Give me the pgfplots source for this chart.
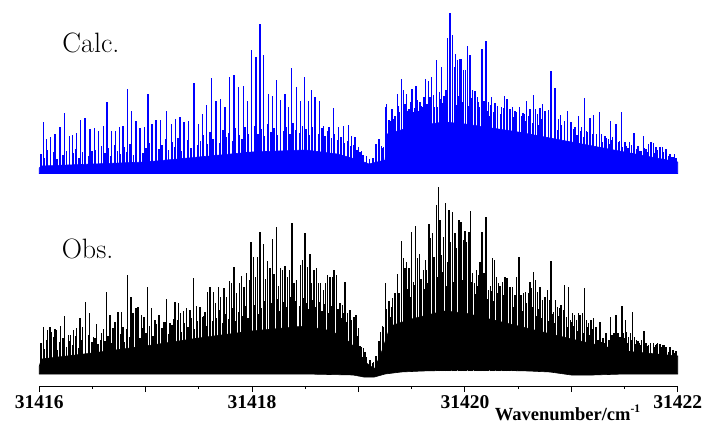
\documentclass[border=0pt]{standalone}
\usepackage{fontspec}
\usepackage{pgfplots}
\pgfplotsset{compat=1.18}
\newfontfamily\tnr{Liberation Serif}
\begin{document}
\begin{tikzpicture}[x=1pt,y=1pt]
\useasboundingbox (-39.3,-38) rectangle (672.7,386);
% ---------------- Observed spectrum (bottom, carries the x axis)
\begin{axis}[at={(0pt,0pt)}, anchor=south west, scale only axis,
  width=638.4pt, height=212pt,
  xmin=31416, xmax=31422, ymin=-15, ymax=197,
  axis x line*=bottom, axis y line=none, clip=false,
  scaled x ticks=false,
  axis line style={line width=0.9pt},
  tick align=outside, major tick length=6pt, minor tick length=3pt,
  tick style={black, line width=0.9pt},
  xtick={31416,31417,31418,31419,31420,31421,31422},
  xticklabels={31416,,31418,,31420,,31422},
  minor xtick={31416.5,31417.5,31418.5,31419.5,31420.5,31421.5},
  xticklabel style={font=\tnr\bfseries\fontsize{19.5}{22}\selectfont},
]
% dense unresolved part
\addplot[fill=black, draw=black, line width=0.6pt] coordinates {
(31416.0,5) (31416.02,12) (31416.5,18) (31417.0,25) (31417.5,33) (31418.0,40)
(31418.5,45) (31418.75,40) (31418.9,30) (31419.0,20) (31419.05,10) (31419.15,2)
(31419.22,20) (31419.3,45) (31419.5,52) (31419.8,60) (31420.0,58) (31420.5,45)
(31421.0,32) (31421.5,20) (31422.0,15)
(31422.0,-3) (31421.5,-3) (31421.2,-4) (31421.0,-4) (31420.8,-1) (31420.6,0)
(31420.4,0.5) (31420.2,1) (31420.0,1) (31419.8,0.5) (31419.6,0) (31419.4,-1)
(31419.25,-3) (31419.15,-6) (31419.05,-6) (31418.95,-4) (31418.5,-3)
(31417.5,-3) (31416.5,-3) (31416.0,-3)} -- cycle;
% dense grass of weaker lines
\addplot[ycomb, black, line width=1.8pt] table[row sep=\\] {
x y\\
31416.015 28\\ 31416.045 22\\ 31416.075 31\\ 31416.105 25\\ 31416.135 34\\ 31416.165 21\\
31416.195 29\\ 31416.225 33\\ 31416.255 24\\ 31416.285 30\\ 31416.315 26\\ 31416.345 35\\
31416.375 23\\ 31416.405 31\\ 31416.435 27\\ 31416.465 36\\ 31416.495 29\\
31416.525 33\\ 31416.555 27\\ 31416.585 38\\ 31416.615 30\\ 31416.645 35\\ 31416.675 28\\
31416.705 40\\ 31416.735 32\\ 31416.765 37\\ 31416.795 29\\ 31416.825 42\\ 31416.855 34\\
31416.885 31\\ 31416.915 39\\ 31416.945 33\\ 31416.975 43\\
31417.005 38\\ 31417.035 45\\ 31417.065 35\\ 31417.095 47\\ 31417.125 40\\ 31417.155 43\\
31417.185 49\\ 31417.215 37\\ 31417.245 46\\ 31417.275 41\\ 31417.305 51\\ 31417.335 39\\
31417.365 48\\ 31417.395 44\\ 31417.425 53\\ 31417.455 42\\ 31417.485 50\\
31417.515 47\\ 31417.545 55\\ 31417.575 45\\ 31417.605 58\\ 31417.635 50\\ 31417.665 53\\
31417.695 61\\ 31417.725 48\\ 31417.755 57\\ 31417.785 52\\ 31417.815 63\\ 31417.845 50\\
31417.875 59\\ 31417.905 55\\ 31417.935 65\\ 31417.965 53\\ 31417.995 60\\
31418.025 66\\ 31418.055 57\\ 31418.085 63\\ 31418.115 70\\ 31418.145 59\\ 31418.175 68\\
31418.205 62\\ 31418.235 72\\ 31418.265 60\\ 31418.295 69\\ 31418.325 64\\ 31418.355 74\\
31418.385 61\\ 31418.415 70\\ 31418.445 65\\ 31418.475 73\\
31418.505 68\\ 31418.535 62\\ 31418.565 71\\ 31418.595 64\\ 31418.625 69\\ 31418.655 60\\
31418.685 67\\ 31418.715 58\\ 31418.745 65\\ 31418.775 56\\ 31418.805 62\\ 31418.835 53\\
31418.865 58\\ 31418.895 49\\ 31418.925 52\\ 31418.955 42\\ 31418.985 35\\
31419.015 25\\ 31419.045 14\\ 31419.075 8\\ 31419.105 6\\ 31419.135 8\\ 31419.165 15\\
31419.195 30\\ 31419.225 45\\
31419.255 62\\ 31419.285 70\\ 31419.315 64\\ 31419.345 74\\ 31419.375 67\\ 31419.405 78\\
31419.435 70\\ 31419.465 82\\ 31419.495 74\\
31419.525 86\\ 31419.555 78\\ 31419.585 92\\ 31419.615 82\\ 31419.645 88\\ 31419.675 96\\
31419.705 84\\ 31419.735 94\\ 31419.765 87\\ 31419.795 99\\ 31419.825 85\\ 31419.855 93\\
31419.885 89\\ 31419.915 97\\ 31419.945 84\\ 31419.975 91\\
31420.005 86\\ 31420.035 80\\ 31420.065 89\\ 31420.095 77\\ 31420.125 85\\ 31420.155 74\\
31420.185 83\\ 31420.215 72\\ 31420.245 80\\ 31420.275 70\\ 31420.305 78\\ 31420.335 68\\
31420.365 76\\ 31420.395 66\\ 31420.425 74\\ 31420.455 64\\ 31420.485 71\\
31420.515 65\\ 31420.545 60\\ 31420.575 68\\ 31420.605 57\\ 31420.635 64\\ 31420.665 55\\
31420.695 62\\ 31420.725 53\\ 31420.755 60\\ 31420.785 50\\ 31420.815 57\\ 31420.845 48\\
31420.875 55\\ 31420.905 46\\ 31420.935 52\\ 31420.965 44\\ 31420.995 49\\
31421.025 45\\ 31421.055 40\\ 31421.085 47\\ 31421.115 38\\ 31421.145 44\\ 31421.175 36\\
31421.205 42\\ 31421.235 35\\ 31421.265 40\\ 31421.295 33\\ 31421.325 38\\ 31421.355 31\\
31421.385 36\\ 31421.415 30\\ 31421.445 34\\ 31421.475 29\\
31421.505 33\\ 31421.535 28\\ 31421.565 31\\ 31421.595 27\\ 31421.625 30\\ 31421.655 26\\
31421.685 29\\ 31421.715 25\\ 31421.745 28\\ 31421.775 24\\ 31421.805 27\\ 31421.835 23\\
31421.865 26\\ 31421.895 22\\ 31421.925 24\\ 31421.955 21\\ 31421.985 20\\
};
% resolved strong lines
\addplot[ycomb, black, line width=1.5pt] table[row sep=\\] {
x y\\
31416.038 44.3\\ 31416.075 41\\ 31416.101 44.3\\ 31416.117 39.3\\ 31416.148 41.7\\
31416.164 41\\ 31416.201 45\\ 31416.235 55.3\\ 31416.273 36\\ 31416.295 36\\
31416.320 41\\ 31416.352 43.3\\ 31416.383 52.7\\ 31416.404 44.3\\ 31416.432 68.7\\
31416.470 57.7\\ 31416.508 34.3\\ 31416.539 47\\ 31416.577 31\\ 31416.602 41.7\\
31416.633 78.7\\ 31416.664 56\\ 31416.695 42.7\\ 31416.711 49.3\\ 31416.742 59.3\\
31416.774 59.3\\ 31416.789 44.3\\ 31416.827 96\\ 31416.862 74.3\\ 31416.883 57.7\\
31416.909 62.7\\ 31416.930 64.3\\ 31416.962 56\\ 31416.984 54.3\\ 31417.015 84.3\\
31417.056 62.7\\ 31417.087 51\\ 31417.125 56\\ 31417.165 49.3\\ 31417.197 71.7\\
31417.228 47.7\\ 31417.259 51.7\\ 31417.275 68.7\\ 31417.306 67.7\\ 31417.329 57.7\\
31417.353 60.3\\ 31417.385 62.7\\ 31417.416 61\\ 31417.447 92.7\\ 31417.479 65\\
31417.510 64.3\\ 31417.532 54.3\\ 31417.557 59.3\\ 31417.579 79.3\\ 31417.604 84.3\\
31417.635 79.3\\ 31417.658 67.7\\ 31417.682 84.3\\ 31417.705 73.7\\ 31417.736 82.7\\
31417.761 73.7\\ 31417.786 90.3\\ 31417.808 87.7\\ 31417.830 103.7\\ 31417.855 77.7\\
31417.880 87.7\\ 31417.902 95\\ 31417.924 84.3\\ 31417.949 97.7\\ 31417.980 91\\
31417.990 129.3\\ 31418.011 114.3\\ 31418.034 94.3\\ 31418.053 114.3\\ 31418.074 139.3\\
31418.105 126.7\\ 31418.124 91.7\\ 31418.147 110\\ 31418.168 102.7\\ 31418.190 131.7\\
31418.206 96.7\\ 31418.231 144.3\\ 31418.250 85\\ 31418.269 103.3\\ 31418.288 101\\
31418.309 105\\ 31418.331 94.3\\ 31418.350 101\\ 31418.375 147.7\\ 31418.394 87.7\\
31418.419 91\\ 31418.457 106\\ 31418.476 111\\ 31418.497 138.3\\ 31418.519 103.7\\
31418.544 117\\ 31418.560 87.7\\ 31418.582 101\\ 31418.607 102.7\\ 31418.622 87.7\\
31418.645 88.3\\ 31418.669 81\\ 31418.692 87.7\\ 31418.711 96\\ 31418.732 94.3\\
31418.754 94.3\\ 31418.770 101\\ 31418.795 96\\ 31418.826 68.3\\ 31418.848 66\\
31418.873 89.3\\ 31418.895 57.7\\ 31418.920 61\\ 31418.936 51\\ 31418.958 54.3\\
31418.977 56\\ 31418.998 42.7\\ 31419.023 24.3\\ 31419.045 22.7\\ 31419.061 19.3\\
31419.077 14.3\\ 31419.108 11\\ 31419.139 9.3\\
31419.209 39.3\\ 31419.233 44.3\\ 31419.256 87.7\\ 31419.280 57.7\\ 31419.296 54.3\\
31419.318 72.7\\ 31419.343 77.7\\ 31419.365 97\\ 31419.383 77.7\\ 31419.406 130.3\\
31419.421 112.7\\ 31419.437 102.7\\ 31419.453 109.3\\ 31419.477 102.7\\ 31419.500 138.7\\
31419.515 89.3\\ 31419.538 145.3\\ 31419.553 112.7\\ 31419.571 117\\ 31419.594 87.7\\
31419.609 101\\ 31419.632 111\\ 31419.641 101\\ 31419.663 146.7\\ 31419.679 132.7\\
31419.694 137.7\\ 31419.710 113.7\\ 31419.735 166\\ 31419.750 184.3\\ 31419.766 151\\
31419.782 116\\ 31419.797 134.3\\ 31419.820 167.7\\ 31419.835 109.3\\ 31419.851 161\\
31419.867 129.3\\ 31419.885 159.3\\ 31419.907 138.3\\ 31419.923 122.7\\ 31419.945 151\\
31419.963 149.3\\ 31419.985 131\\ 31420.001 140.3\\ 31420.017 129.3\\ 31420.039 139.3\\
31420.051 160.3\\ 31420.070 97.7\\ 31420.088 87.7\\ 31420.111 101\\ 31420.126 96\\
31420.142 109.3\\ 31420.161 139.3\\ 31420.180 97.7\\ 31420.198 153.7\\ 31420.220 81\\
31420.242 85\\ 31420.261 112.7\\ 31420.276 111\\ 31420.299 94.3\\ 31420.314 87.7\\
31420.330 85\\ 31420.355 89.3\\ 31420.377 93.7\\ 31420.398 92.7\\ 31420.424 84.3\\
31420.449 84.3\\ 31420.471 76\\ 31420.487 94.3\\ 31420.508 114.3\\ 31420.527 76\\
31420.549 77.7\\ 31420.571 79.3\\ 31420.596 77.7\\ 31420.612 89.3\\ 31420.628 82.7\\
31420.643 99.3\\ 31420.665 91\\ 31420.684 79.3\\ 31420.706 84.3\\ 31420.731 71\\
31420.753 74.3\\ 31420.778 81\\ 31420.793 71\\ 31420.809 110\\ 31420.831 59.3\\
31420.850 71\\ 31420.868 64.3\\ 31420.887 62.7\\ 31420.903 66\\ 31420.925 61\\
31420.938 86\\ 31420.957 54.3\\ 31420.972 84.3\\ 31420.994 51\\ 31421.013 57.7\\
31421.028 56\\ 31421.051 51\\ 31421.070 57.7\\ 31421.082 56\\ 31421.103 58.3\\
31421.126 83.3\\ 31421.145 51\\ 31421.164 47.7\\ 31421.185 51\\ 31421.207 52.7\\
31421.232 44.3\\ 31421.251 31\\ 31421.270 49.3\\ 31421.289 29.3\\ 31421.310 27.7\\
31421.333 31\\ 31421.357 31\\ 31421.370 54.3\\ 31421.389 34.3\\ 31421.401 37.7\\
31421.420 56\\ 31421.439 37.7\\ 31421.458 34.3\\ 31421.477 65\\ 31421.489 37.7\\
31421.508 51\\ 31421.521 39.3\\ 31421.539 34.3\\ 31421.558 37.7\\ 31421.577 59.3\\
31421.592 34.3\\ 31421.615 31\\ 31421.639 27.7\\ 31421.662 31\\ 31421.683 40.3\\
31421.702 27.7\\ 31421.724 26\\ 31421.746 28.3\\ 31421.771 28.3\\ 31421.793 26\\
31421.808 27.7\\ 31421.834 27\\ 31421.850 24.3\\ 31421.871 26\\ 31421.890 24.3\\
31421.912 19.3\\ 31421.928 20.3\\ 31421.950 21\\ 31421.972 17.7\\ 31421.987 16\\
};
\node[anchor=base west, inner sep=0pt, font=\fontsize{28}{32}\selectfont]
  at (axis cs:31416.21,112.7) {Obs.};
\end{axis}
% ---------------- Calculated spectrum (top)
\begin{axis}[at={(0pt,212pt)}, anchor=south west, scale only axis,
  width=638.4pt, height=173.5pt,
  xmin=31416, xmax=31422, ymin=-2, ymax=171.5,
  hide axis, clip=false, scaled x ticks=false]
\addplot[fill=blue, draw=blue, line width=0.6pt] coordinates {
(31416.0,4) (31416.02,6) (31417.0,10) (31418.0,20) (31418.5,22) (31418.8,18)
(31419.0,12) (31419.1,8) (31419.25,12) (31419.27,38) (31419.5,45) (31419.8,50)
(31420.0,48) (31420.5,40) (31421.0,30) (31421.5,20) (31422.0,10)
(31422.0,-1.5) (31416.0,-1.5)} -- cycle;
\addplot[ycomb, blue, line width=1.6pt] table[row sep=\\] {
x y\\
31416.015 18\\ 31416.045 14\\ 31416.075 22\\ 31416.105 16\\ 31416.135 20\\ 31416.165 13\\
31416.195 24\\ 31416.225 17\\ 31416.255 21\\ 31416.285 15\\ 31416.315 19\\ 31416.345 23\\
31416.375 14\\ 31416.405 20\\ 31416.435 25\\ 31416.465 16\\ 31416.495 21\\
31416.525 22\\ 31416.555 17\\ 31416.585 26\\ 31416.615 19\\ 31416.645 24\\ 31416.675 16\\
31416.705 27\\ 31416.735 21\\ 31416.765 18\\ 31416.795 25\\ 31416.825 20\\ 31416.855 28\\
31416.885 17\\ 31416.915 23\\ 31416.945 26\\ 31416.975 19\\
31417.005 24\\ 31417.035 29\\ 31417.065 20\\ 31417.095 31\\ 31417.125 23\\ 31417.155 27\\
31417.185 33\\ 31417.215 22\\ 31417.245 30\\ 31417.275 25\\ 31417.305 34\\ 31417.335 21\\
31417.365 28\\ 31417.395 32\\ 31417.425 24\\ 31417.455 35\\ 31417.485 27\\
31417.515 31\\ 31417.545 37\\ 31417.575 28\\ 31417.605 40\\ 31417.635 33\\ 31417.665 36\\
31417.695 29\\ 31417.725 42\\ 31417.755 35\\ 31417.785 39\\ 31417.815 31\\ 31417.845 44\\
31417.875 37\\ 31417.905 33\\ 31417.935 45\\ 31417.965 38\\ 31417.995 41\\
31418.025 46\\ 31418.055 38\\ 31418.085 43\\ 31418.115 36\\ 31418.145 48\\ 31418.175 40\\
31418.205 44\\ 31418.235 37\\ 31418.265 47\\ 31418.295 41\\ 31418.325 45\\ 31418.355 38\\
31418.385 49\\ 31418.415 42\\ 31418.445 39\\ 31418.475 46\\
31418.505 43\\ 31418.535 37\\ 31418.565 45\\ 31418.595 40\\ 31418.625 38\\ 31418.655 44\\
31418.685 36\\ 31418.715 41\\ 31418.745 34\\ 31418.775 38\\ 31418.805 32\\ 31418.835 35\\
31418.865 29\\ 31418.895 31\\ 31418.925 26\\ 31418.955 27\\ 31418.985 22\\
31419.015 20\\ 31419.045 17\\ 31419.075 15\\ 31419.105 13\\ 31419.135 14\\ 31419.165 18\\
31419.195 21\\ 31419.225 24\\
31419.255 58\\ 31419.285 52\\ 31419.315 63\\ 31419.345 56\\ 31419.375 66\\ 31419.405 59\\
31419.435 68\\ 31419.465 61\\ 31419.495 70\\
31419.525 64\\ 31419.555 72\\ 31419.585 66\\ 31419.615 75\\ 31419.645 68\\ 31419.675 70\\
31419.705 77\\ 31419.735 65\\ 31419.765 73\\ 31419.795 69\\ 31419.825 78\\ 31419.855 71\\
31419.885 74\\ 31419.915 67\\ 31419.945 76\\ 31419.975 70\\
31420.005 72\\ 31420.035 66\\ 31420.065 74\\ 31420.095 63\\ 31420.125 70\\ 31420.155 65\\
31420.185 68\\ 31420.215 61\\ 31420.245 67\\ 31420.275 60\\ 31420.305 66\\ 31420.335 58\\
31420.365 64\\ 31420.395 57\\ 31420.425 62\\ 31420.455 55\\ 31420.485 60\\
31420.515 54\\ 31420.545 59\\ 31420.575 51\\ 31420.605 56\\ 31420.635 49\\ 31420.665 55\\
31420.695 47\\ 31420.725 53\\ 31420.755 46\\ 31420.785 51\\ 31420.815 44\\ 31420.845 49\\
31420.875 42\\ 31420.905 47\\ 31420.935 40\\ 31420.965 45\\ 31420.995 39\\
31421.025 43\\ 31421.055 37\\ 31421.085 41\\ 31421.115 35\\ 31421.145 40\\ 31421.175 33\\
31421.205 38\\ 31421.235 31\\ 31421.265 36\\ 31421.295 30\\ 31421.325 34\\ 31421.355 28\\
31421.385 32\\ 31421.415 27\\ 31421.445 30\\ 31421.475 25\\
31421.505 29\\ 31421.535 24\\ 31421.565 27\\ 31421.595 22\\ 31421.625 26\\ 31421.655 21\\
31421.685 24\\ 31421.715 20\\ 31421.745 23\\ 31421.775 19\\ 31421.805 22\\ 31421.835 18\\
31421.865 20\\ 31421.895 17\\ 31421.925 18\\ 31421.955 15\\ 31421.985 14\\
};
\addplot[ycomb, blue, line width=1.5pt] table[row sep=\\] {
x y\\
31416.038 49.8\\ 31416.070 33.5\\ 31416.107 34.8\\ 31416.148 38.5\\ 31416.195 44.8\\
31416.239 59.5\\ 31416.282 36.5\\ 31416.314 37.5\\ 31416.352 38.8\\ 31416.389 52.5\\
31416.430 54.5\\ 31416.477 43.5\\ 31416.517 43.8\\ 31416.558 41.5\\ 31416.602 46.5\\
31416.636 70.5\\ 31416.680 40.8\\ 31416.718 41.5\\ 31416.752 45.5\\ 31416.789 46.5\\
31416.831 83.2\\ 31416.868 61.5\\ 31416.909 51.5\\ 31416.946 44.5\\ 31416.987 44.8\\
31417.022 78.2\\ 31417.059 48.2\\ 31417.097 52.5\\ 31417.141 52.5\\ 31417.197 61.5\\
31417.244 48.2\\ 31417.282 53.2\\ 31417.322 54.8\\ 31417.360 49.8\\ 31417.400 50.8\\
31417.454 89.2\\ 31417.494 48.2\\ 31417.536 58.2\\ 31417.573 67.5\\ 31417.620 94.2\\
31417.661 71.5\\ 31417.705 72.8\\ 31417.745 65.5\\ 31417.786 94.8\\ 31417.830 96.5\\
31417.870 84.8\\ 31417.917 85.5\\ 31417.955 70.8\\ 31417.996 121.5\\ 31418.037 114.8\\
31418.074 147.5\\ 31418.105 116.5\\ 31418.152 78.2\\ 31418.194 76.5\\ 31418.231 92.2\\
31418.269 72.5\\ 31418.309 78.2\\ 31418.340 64.8\\ 31418.372 103.8\\ 31418.419 84.8\\
31418.457 70.8\\ 31418.491 94.8\\ 31418.528 71.5\\ 31418.560 81.5\\ 31418.591 75.5\\
31418.632 71.5\\ 31418.669 46.5\\ 31418.723 44.8\\ 31418.763 64.2\\ 31418.810 45.5\\
31418.857 46.5\\ 31418.904 47.5\\ 31418.936 36.5\\ 31418.967 34.8\\ 31418.998 24.8\\
31419.030 21.5\\ 31419.077 16.5\\
31419.164 28.2\\ 31419.195 33.2\\ 31419.218 25.8\\ 31419.233 24.8\\ 31419.256 64.8\\
31419.265 68.2\\ 31419.287 51.5\\ 31419.303 50.8\\ 31419.321 60.5\\ 31419.336 53.2\\
31419.365 78.2\\ 31419.383 60.5\\ 31419.406 92.5\\ 31419.421 81.5\\ 31419.453 78.2\\
31419.477 63.2\\ 31419.503 82.5\\ 31419.522 59.8\\ 31419.540 85.5\\ 31419.562 61.5\\
31419.578 70.5\\ 31419.603 64.8\\ 31419.628 92.5\\ 31419.656 90.5\\ 31419.672 74.8\\
31419.688 94.8\\ 31419.710 64.8\\ 31419.735 111.5\\ 31419.759 79.8\\ 31419.782 104.8\\
31419.804 76.5\\ 31419.822 81.5\\ 31419.838 134.2\\ 31419.860 158.8\\ 31419.885 136.5\\
31419.900 104.8\\ 31419.914 117.5\\ 31419.929 111.5\\ 31419.947 113.2\\ 31419.963 113.2\\
31419.985 102.2\\ 31420.008 102.2\\ 31420.023 125.5\\ 31420.048 116.5\\ 31420.073 81.5\\
31420.095 80.8\\ 31420.117 74.8\\ 31420.135 65.5\\ 31420.161 123.2\\ 31420.180 71.5\\
31420.198 130.8\\ 31420.220 69.8\\ 31420.236 56.5\\ 31420.252 75.5\\ 31420.283 69.2\\
31420.305 62.2\\ 31420.346 65.5\\ 31420.370 75.8\\ 31420.398 73.2\\ 31420.424 63.2\\
31420.449 64.8\\ 31420.471 61.5\\ 31420.487 56.5\\ 31420.511 64.8\\ 31420.534 56.5\\
31420.555 58.2\\ 31420.581 71.5\\ 31420.612 63.2\\ 31420.643 77.2\\ 31420.665 63.2\\
31420.684 58.2\\ 31420.706 63.8\\ 31420.731 68.2\\ 31420.753 61.5\\ 31420.784 62.2\\
31420.809 100.5\\ 31420.840 65.5\\ 31420.847 83.8\\ 31420.878 53.2\\ 31420.900 57.2\\
31420.938 50.8\\ 31420.966 61.5\\ 31420.997 49.8\\ 31421.035 44.8\\ 31421.070 55.8\\
31421.098 44.8\\ 31421.122 74.2\\ 31421.145 41.5\\ 31421.176 53.8\\ 31421.207 57.5\\
31421.239 38.2\\ 31421.263 60.5\\ 31421.286 38.2\\ 31421.317 36.5\\ 31421.348 33.2\\
31421.370 50.8\\ 31421.389 34.8\\ 31421.420 48.2\\ 31421.451 31.5\\ 31421.474 60.5\\
31421.505 29.8\\ 31421.521 26.5\\ 31421.545 29.8\\ 31421.568 26.5\\ 31421.589 39.2\\
31421.615 23.2\\ 31421.646 21.5\\ 31421.677 36.5\\ 31421.702 23.2\\ 31421.724 28.2\\
31421.749 30.5\\ 31421.771 28.8\\ 31421.796 24.8\\ 31421.834 25.5\\ 31421.855 24.8\\
31421.890 23.2\\ 31421.912 16.5\\ 31421.944 14.8\\ 31421.968 18.2\\ 31421.991 13.2\\
};
\node[anchor=base west, inner sep=0pt, font=\fontsize{28}{32}\selectfont]
  at (axis cs:31416.216,119.8) {Calc.};
\end{axis}
\node[anchor=base, inner sep=0pt, font=\tnr\bfseries\fontsize{18.5}{20}\selectfont]
  at (528.2,-34) {Wavenumber/cm\raisebox{0.42em}{\fontsize{11.5}{12}\selectfont -1}};
\end{tikzpicture}
\end{document}
